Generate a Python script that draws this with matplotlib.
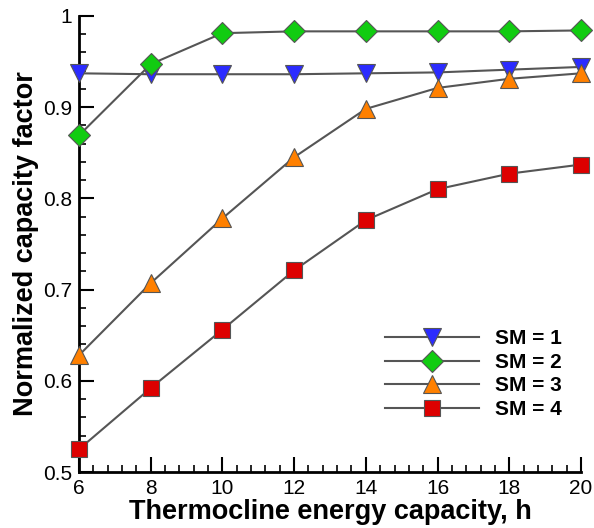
import matplotlib
matplotlib.use("Agg")
import matplotlib.pyplot as plt
from matplotlib.ticker import MultipleLocator, FuncFormatter

hours = [6, 8, 10, 12, 14, 16, 18, 20]
sm1 = [0.937, 0.936, 0.936, 0.936, 0.937, 0.938, 0.941, 0.944]
sm2 = [0.869, 0.947, 0.981, 0.983, 0.983, 0.983, 0.983, 0.984]
sm3 = [0.628, 0.707, 0.778, 0.845, 0.898, 0.921, 0.931, 0.937]
sm4 = [0.525, 0.592, 0.656, 0.721, 0.776, 0.810, 0.827, 0.837]
labels = ["SM = 1", "SM = 2", "SM = 3", "SM = 4"]

plt.rcParams['font.family'] = ['Liberation Sans', 'DejaVu Sans']

fig = plt.figure(figsize=(5.94, 5.28), dpi=100)
ax = fig.add_axes([0.133, 0.106, 0.845, 0.864])

styles = [
    dict(marker='v', color='#2b2bff', ms=13),
    dict(marker='D', color='#11cc11', ms=11),
    dict(marker='^', color='#ff8000', ms=13),
    dict(marker='s', color='#dd0000', ms=11),
]
for ys, lab, st in zip([sm1, sm2, sm3, sm4], labels, styles):
    ax.plot(hours, ys, color='#555555', lw=1.5, marker=st['marker'],
            markersize=st['ms'], markerfacecolor=st['color'],
            markeredgecolor='#555555', markeredgewidth=0.8, label=lab,
            clip_on=False, zorder=3)

ax.set_xlim(6, 20)
ax.set_ylim(0.5, 1.0)
ax.xaxis.set_major_locator(MultipleLocator(2))
ax.xaxis.set_minor_locator(MultipleLocator(0.4))
ax.yaxis.set_major_locator(MultipleLocator(0.1))
ax.yaxis.set_minor_locator(MultipleLocator(0.02))
ax.yaxis.set_major_formatter(FuncFormatter(lambda v, p: f"{v:g}"))

for s in ['top', 'right']:
    ax.spines[s].set_visible(False)
for s in ['left', 'bottom']:
    ax.spines[s].set_linewidth(2)
ax.tick_params(which='major', direction='in', length=11, width=1.5, labelsize=15, pad=5)
ax.tick_params(which='minor', direction='in', length=5, width=1.2)

ax.set_xlabel("Thermocline energy capacity, h", fontsize=19.5, fontweight='bold', labelpad=1)
ax.set_ylabel("Normalized capacity factor", fontsize=19.5, fontweight='bold', labelpad=3)

leg = ax.legend(loc='lower right', bbox_to_anchor=(1.0, 0.075), frameon=False,
                handlelength=4.5, prop={'weight': 'bold', 'size': 15},
                labelspacing=0.22, handletextpad=0.8)

fig.savefig("out.png", dpi=100)
